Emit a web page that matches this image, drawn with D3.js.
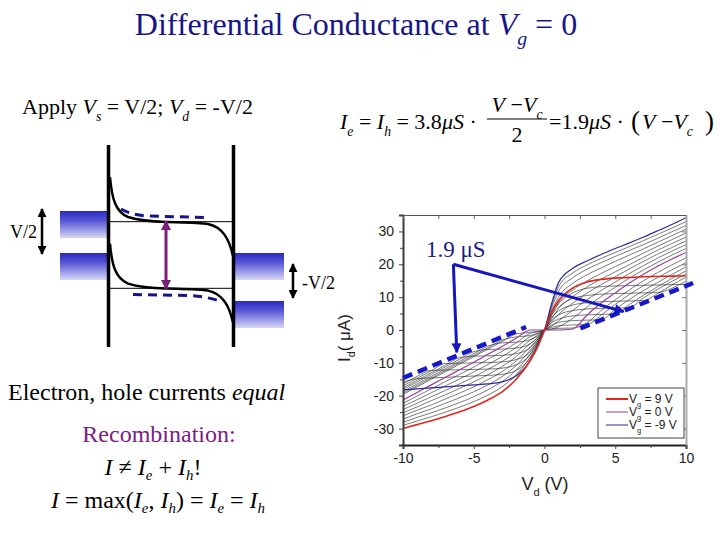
<!DOCTYPE html>
<html>
<head>
<meta charset="utf-8">
<script src="https://cdn.jsdelivr.net/npm/d3@7"></script>
<style>
  body { margin: 0; background: #fff; }
  svg { display: block; }
</style>
</head>
<body>
<script>
// drain voltage samples (V)
var vd = [-10, -9, -8, -7, -6, -5, -4, -3, -2, -1, -0.5, 0, 0.5, 1, 2, 3, 4, 5, 6, 7, 8, 9, 10];

// gate voltages of the curve family (V)
var vgLevels = [9, 8, 7, 6, 5, 4, 3, 2, 1, 0, -1, -2, -3, -4, -5, -6, -7, -8, -9];

// drain current (uA), one row per gate voltage
var idCurves = [
  [-30.0, -28.8, -27.6, -26.3, -24.9, -23.3, -21.3, -18.8, -15.0, -9.2, -5.3, 0, 5.5, 9.0, 12.8, 14.6, 15.4, 15.8, 16.0, 16.2, 16.3, 16.4, 16.5],
  [-29.0, -27.7, -26.4, -25.0, -23.5, -21.8, -19.8, -17.3, -13.6, -8.2, -4.7, 0, 5.0, 8.0, 11.3, 12.7, 13.2, 13.4, 13.5, 13.6, 13.7, 13.8, 13.9],
  [-28.1, -26.6, -25.2, -23.7, -22.1, -20.3, -18.2, -15.7, -12.2, -7.2, -4.1, 0, 4.5, 7.0, 9.6, 10.5, 10.9, 11.1, 11.2, 11.3, 11.4, 12.7, 14.9],
  [-27.1, -25.5, -24.0, -22.3, -20.6, -18.8, -16.7, -14.2, -10.8, -6.1, -3.5, 0, 3.8, 5.8, 7.6, 8.3, 8.6, 8.75, 8.85, 8.95, 11.1, 13.7, 16.1],
  [-26.1, -24.4, -22.8, -21.0, -19.2, -17.3, -15.1, -12.7, -9.4, -5.1, -2.9, 0, 3.0, 4.6, 5.9, 6.4, 6.6, 6.7, 6.8, 9.8, 12.4, 14.8, 17.0],
  [-25.2, -23.4, -21.5, -19.7, -17.8, -15.8, -13.6, -11.1, -8.1, -4.1, -2.4, 0, 2.2, 3.3, 4.3, 4.6, 4.75, 4.85, 7.8, 10.6, 13.2, 15.7, 18.0],
  [-24.2, -22.3, -20.3, -18.4, -16.4, -14.3, -12.0, -9.6, -6.7, -3.1, -1.8, 0, 1.5, 2.3, 2.85, 3.0, 3.1, 6.3, 9.3, 12.0, 14.5, 16.9, 19.2],
  [-23.2, -21.2, -19.1, -17.0, -14.9, -12.8, -10.5, -8.1, -5.3, -2.0, -1.2, 0, 0.8, 1.3, 1.55, 1.65, 4.5, 7.8, 10.8, 13.5, 16.0, 18.3, 20.5],
  [-22.3, -20.1, -17.9, -15.7, -13.5, -11.3, -8.9, -6.5, -3.9, -1.0, -0.6, 0, 0.3, 0.5, 0.6, 2.2, 5.9, 9.2, 12.2, 15.0, 17.5, 19.8, 22.0],
  [-21.3, -19.0, -16.7, -14.4, -12.1, -9.8, -7.4, -5.0, -2.5, 0, 0, 0, 0, 0, 0.3, 4.5, 8.2, 11.3, 14.3, 17.0, 19.4, 21.6, 23.6],
  [-19.6, -17.3, -15.0, -12.7, -10.4, -8.1, -5.8, -3.5, -1.2, -0.7, -0.4, 0, 0.3, 1.0, 3.6, 7.0, 10.2, 13.0, 15.8, 18.3, 20.6, 22.8, 24.8],
  [-19.2, -16.9, -14.6, -12.3, -10.0, -7.7, -5.4, -3.1, -2.1, -1.7, -1.0, 0, 1.2, 2.8, 6.0, 9.2, 12.0, 14.6, 17.2, 19.6, 21.9, 24.0, 26.0],
  [-18.7, -16.4, -14.1, -11.8, -9.5, -7.2, -4.9, -3.9, -3.7, -2.9, -1.7, 0, 2.4, 4.8, 8.2, 11.2, 13.8, 16.2, 18.6, 20.9, 23.1, 25.1, 27.1],
  [-18.1, -15.8, -13.5, -11.2, -8.9, -6.6, -5.95, -5.8, -5.5, -4.2, -2.4, 0, 3.4, 6.5, 10.2, 13.1, 15.5, 17.7, 19.9, 22.1, 24.3, 26.3, 28.3],
  [-17.6, -15.3, -13.0, -10.7, -8.4, -7.95, -7.85, -7.7, -7.2, -5.4, -3.0, 0, 4.5, 8.3, 12.2, 14.9, 17.2, 19.3, 21.3, 23.4, 25.5, 27.5, 29.5],
  [-17.0, -14.7, -12.4, -10.2, -10.1, -10.0, -9.9, -9.7, -9.0, -6.6, -3.6, 0, 5.6, 10.1, 14.2, 16.8, 18.9, 20.9, 22.8, 24.7, 26.7, 28.7, 30.7],
  [-16.4, -14.1, -12.3, -12.2, -12.1, -12.0, -11.9, -11.6, -10.6, -7.5, -4.1, 0, 6.6, 11.8, 15.9, 18.5, 20.5, 22.4, 24.2, 26.0, 27.9, 29.9, 31.8],
  [-15.9, -14.8, -14.6, -14.4, -14.2, -14.0, -13.8, -13.5, -12.3, -8.4, -4.6, 0, 7.3, 13.2, 17.4, 19.8, 21.8, 23.6, 25.4, 27.2, 29.1, 31.0, 33.0],
  [-18.2, -17.9, -17.6, -17.3, -17.0, -16.7, -16.4, -15.8, -13.9, -9.2, -5.0, 0, 8.0, 14.5, 18.8, 21.0, 23.0, 24.8, 26.5, 28.3, 30.2, 32.1, 34.2]
];

// highlighted curves and legend
var legendVg = [9, 0, -9];
var legendText = ["= 9 V", "= 0 V", "= -9 V"];
var legendColor = ["#e3261c", "#9a3c9a", "#2b2b9c"];

// envelope annotations (data units): [vd, id] end points
var envLeft = [[-10, -14.6], [-1.3, 0.9]];
var envRight = [[2.53, 0.5], [10.5, 14.3]];
var labelAnchor = [-6.44, 20.0];
var arrowTips = [[5.59, 5.6], [-6.2, -6.8]];

var xTicks = [-10, -5, 0, 5, 10];
var xMinor = [-7.5, -2.5, 2.5, 7.5];
var yTicks = [-30, -20, -10, 0, 10, 20, 30];
var yMinor = [-25, -15, -5, 5, 15, 25];

var serif = "'Liberation Serif','Times New Roman',serif";
var sans = "'Liberation Sans',Arial,sans-serif";

var svg = d3.select("body").append("svg").attr("width", 720).attr("height", 540);
svg.append("rect").attr("width", 720).attr("height", 540).attr("fill", "#fff");

var defs = svg.append("defs");
var grad = defs.append("linearGradient").attr("id", "lead").attr("x1", 0).attr("y1", 0).attr("x2", 0).attr("y2", 1);
grad.append("stop").attr("offset", "0").attr("stop-color", "#2a2ac2");
grad.append("stop").attr("offset", "0.35").attr("stop-color", "#5555d4");
grad.append("stop").attr("offset", "1").attr("stop-color", "#d6d6f6");

function marker(id, color, w, h) {
  defs.append("marker").attr("id", id).attr("viewBox", "0 0 10 10").attr("refX", 9).attr("refY", 5)
    .attr("markerWidth", w).attr("markerHeight", h).attr("orient", "auto-start-reverse")
    .attr("markerUnits", "userSpaceOnUse")
    .append("path").attr("d", "M0,0 L10,5 L0,10 z").attr("fill", color);
}
marker("arBlack", "#000", 10, 9);
marker("arPurple", "#7a1e7a", 11, 10);
marker("arBlue", "#1616c0", 13, 10);

// text with italic / subscript runs
function rich(g, x, y, size, color, family, parts, anchor, subDrop) {
  var t = g.append("text").attr("x", x).attr("y", y).attr("fill", color)
    .style("font-size", size + "px").style("font-family", family)
    .attr("text-anchor", anchor || "start");
  var drop = subDrop || 0.32;
  var shift = 0;
  parts.forEach(function (p) {
    var f = p[1] || "";
    var target = f.indexOf("s") >= 0 ? size * drop : 0;
    var ts = t.append("tspan").text(p[0]).attr("dy", target - shift);
    shift = target;
    if (f.indexOf("i") >= 0) ts.style("font-style", "italic");
    if (f.indexOf("s") >= 0) ts.style("font-size", (size * 0.62) + "px");
  });
  return t;
}

/* Title and text blocks */
rich(svg, 356, 35, 32, "#16168a", serif,
  [["Differential Conductance at "], ["V", "i"], ["g", "is"], [" = 0"]], "middle");

rich(svg, 22, 114, 22, "#000", serif,
  [["Apply "], ["V", "i"], ["s", "is"], [" = V/2; "], ["V", "i"], ["d", "is"], [" = -V/2"]]);

rich(svg, 8, 400, 24, "#000", serif, [["Electron, hole currents "], ["equal", "i"]]);
rich(svg, 159, 442, 24, "#7a2082", serif, [["Recombination:"]], "middle");
rich(svg, 153, 475, 24, "#000", serif,
  [["I", "i"], [" \u2260 "], ["I", "i"], ["e", "is"], [" + "], ["I", "i"], ["h", "is"], ["!"]], "middle", 0.22);
rich(svg, 158, 508, 24, "#000", serif,
  [["I", "i"], [" = max("], ["I", "i"], ["e", "is"], [", "], ["I", "i"], ["h", "is"], [") = "],
   ["I", "i"], ["e", "is"], [" = "], ["I", "i"], ["h", "is"]], "middle", 0.22);

/* Equation */
var eq = svg.append("g");
rich(eq, 340, 129, 22, "#000", serif,
  [["I", "i"], ["e", "is"], [" = "], ["I", "i"], ["h", "is"], [" = 3.8"], ["\u03bcS", "i"], [" \u00b7"]]);
rich(eq, 517, 112, 22, "#000", serif, [["V", "i"], [" \u2212"], ["V", "i"], ["c", "is"]], "middle");
eq.append("line").attr("x1", 487).attr("x2", 547).attr("y1", 119).attr("y2", 119).attr("stroke", "#000").attr("stroke-width", 1.2);
rich(eq, 517, 142, 22, "#000", serif, [["2"]], "middle");
rich(eq, 549, 129, 22, "#000", serif, [["=1.9"], ["\u03bcS", "i"], [" \u00b7"]]);
rich(eq, 631, 130, 27, "#000", serif, [["("]]);
rich(eq, 642, 129, 22, "#000", serif, [["V", "i"], [" \u2212"], ["V", "i"], ["c", "is"]]);
rich(eq, 705, 130, 27, "#000", serif, [[")"]]);

/* Band diagram */
var band = svg.append("g");
[[60, 211, 48, 27], [60, 253, 48, 27], [235, 253, 49, 27], [235, 301, 49, 27]].forEach(function (b) {
  band.append("rect").attr("x", b[0]).attr("y", b[1]).attr("width", b[2]).attr("height", b[3]).attr("fill", "url(#lead)");
});
[221.7, 288.3].forEach(function (yy) {
  band.append("line").attr("x1", 108).attr("x2", 233).attr("y1", yy).attr("y2", yy).attr("stroke", "#000").attr("stroke-width", 1);
});
[108.5, 233.5].forEach(function (xx) {
  band.append("line").attr("x1", xx).attr("x2", xx).attr("y1", 145).attr("y2", 347).attr("stroke", "#000").attr("stroke-width", 3.5);
});
var bandPath = "M110,177 C112,200 116,212 128,217 C138,220 150,221.5 166,222 C185,222.5 199,222.5 208,224 C222,227 229,238 233,256";
[0, 66.6].forEach(function (dy) {
  band.append("path").attr("d", bandPath).attr("transform", "translate(0," + dy + ")")
    .attr("fill", "none").attr("stroke", "#000").attr("stroke-width", 2.5);
});
band.append("path").attr("d", "M121,209 C128,213 136,215 146,216 L207,217.5")
  .attr("fill", "none").attr("stroke", "#15158a").attr("stroke-width", 3).attr("stroke-dasharray", "9,6");
band.append("path").attr("d", "M133,294.5 L187,295.5 C200,296 212,298 222,302")
  .attr("fill", "none").attr("stroke", "#15158a").attr("stroke-width", 3).attr("stroke-dasharray", "9,6");
band.append("line").attr("x1", 166).attr("x2", 166).attr("y1", 221).attr("y2", 289)
  .attr("stroke", "#7a1e7a").attr("stroke-width", 3)
  .attr("marker-start", "url(#arPurple)").attr("marker-end", "url(#arPurple)");
band.append("line").attr("x1", 42).attr("x2", 42).attr("y1", 209).attr("y2", 254)
  .attr("stroke", "#000").attr("stroke-width", 2.5)
  .attr("marker-start", "url(#arBlack)").attr("marker-end", "url(#arBlack)");
band.append("line").attr("x1", 293).attr("x2", 293).attr("y1", 264).attr("y2", 298)
  .attr("stroke", "#000").attr("stroke-width", 2.5)
  .attr("marker-start", "url(#arBlack)").attr("marker-end", "url(#arBlack)");
rich(band, 10, 238, 18, "#000", serif, [["V/2"]]);
rich(band, 302, 289, 18, "#000", serif, [["-V/2"]]);

/* I-V chart */
var x = d3.scaleLinear().domain([-10, 10]).range([403, 686]);
var y = d3.scaleLinear().domain([-35, 35]).range([445, 215]);
var chart = svg.append("g");

defs.append("clipPath").attr("id", "plotClip").append("rect")
  .attr("x", 403).attr("y", 215).attr("width", 283).attr("height", 230);

var line = d3.line()
  .x(function (d, i) { return x(vd[i]); })
  .y(function (d) { return y(d); })
  .curve(d3.curveMonotoneX);

var curves = chart.append("g").attr("clip-path", "url(#plotClip)");
var rows = vgLevels.map(function (v, i) { return { vg: v, id: idCurves[i] }; });
curves.selectAll("path.gray").data(rows.filter(function (r) { return legendVg.indexOf(r.vg) < 0; }))
  .enter().append("path").attr("class", "gray")
  .attr("d", function (r) { return line(r.id); })
  .attr("fill", "none").attr("stroke", "#222").attr("stroke-width", 0.6);

[0, -9, 9].forEach(function (v) {
  var k = legendVg.indexOf(v);
  curves.append("path").attr("d", line(idCurves[vgLevels.indexOf(v)]))
    .attr("fill", "none").attr("stroke", legendColor[k]).attr("stroke-width", v === 9 ? 1.6 : 1.2);
});

// frame and axes
var fmt = function (d) { return String(d); };
var axL = chart.append("g").attr("transform", "translate(403,0)")
  .call(d3.axisLeft(y).tickValues(yTicks).tickSize(4).tickFormat(fmt));
chart.append("g").attr("transform", "translate(403,0)")
  .call(d3.axisLeft(y).tickValues(yMinor).tickSize(3).tickFormat(""))
  .select(".domain").remove();
var axB = chart.append("g").attr("transform", "translate(0,445)")
  .call(d3.axisBottom(x).tickValues(xTicks).tickSize(4).tickFormat(fmt));
chart.append("g").attr("transform", "translate(0,445)")
  .call(d3.axisBottom(x).tickValues(xMinor).tickSize(3).tickFormat(""))
  .select(".domain").remove();
var axT = chart.append("g").attr("transform", "translate(0,215)")
  .call(d3.axisBottom(x).tickValues(xTicks.concat(xMinor)).tickSize(4).tickSizeOuter(0).tickFormat(""));
var axR = chart.append("g").attr("transform", "translate(686,0)")
  .call(d3.axisLeft(y).tickValues(yTicks).tickSize(4).tickSizeOuter(0).tickFormat(""));

chart.selectAll(".tick line").attr("stroke", "#444");
axL.select(".domain").attr("stroke", "#3a3a3a").attr("stroke-width", 2);
axB.select(".domain").attr("stroke", "#222").attr("stroke-width", 2);
axT.select(".domain").attr("stroke", "#555").attr("stroke-width", 1);
axR.select(".domain").attr("stroke", "#aaa").attr("stroke-width", 2);
axT.selectAll(".tick line").attr("stroke", "#666");
axR.selectAll(".tick line").attr("stroke", "#777");
chart.selectAll(".tick text").style("font-family", sans).style("font-size", "14px").attr("fill", "#222");
axL.selectAll(".tick text").attr("x", -9);
axB.selectAll(".tick text").attr("y", 8);

rich(chart, 545, 490, 18, "#222", sans, [["V"], ["d", "s"], [" (V)"]], "middle");
rich(chart.append("g").attr("transform", "translate(350,338) rotate(-90)"), 0, 0, 17, "#222", sans,
  [["I"], ["d", "s"], ["( \u03bcA)"]], "middle");

// legend
var leg = chart.append("g");
leg.append("rect").attr("x", 598).attr("y", 388).attr("width", 86).attr("height", 50)
  .attr("fill", "#fff").attr("stroke", "#444").attr("stroke-width", 1);
legendVg.forEach(function (v, i) {
  var yy = 399 + i * 13;
  leg.append("line").attr("x1", 606).attr("x2", 628).attr("y1", yy).attr("y2", yy)
    .attr("stroke", legendColor[i]).attr("stroke-width", i === 0 ? 2 : 1);
  rich(leg, 629, yy + 4, 12, "#222", sans, [["V"], ["g", "s"], [" " + legendText[i]]]);
});

// envelope lines and annotation
[envLeft, envRight].forEach(function (seg) {
  chart.append("line")
    .attr("x1", x(seg[0][0])).attr("y1", y(seg[0][1]))
    .attr("x2", x(seg[1][0])).attr("y2", y(seg[1][1]))
    .attr("stroke", "#1717cc").attr("stroke-width", 4.5).attr("stroke-dasharray", "10,6");
});
arrowTips.forEach(function (t) {
  chart.append("line")
    .attr("x1", x(labelAnchor[0])).attr("y1", y(labelAnchor[1]))
    .attr("x2", x(t[0])).attr("y2", y(t[1]))
    .attr("stroke", "#1616c0").attr("stroke-width", 3).attr("marker-end", "url(#arBlue)");
});
rich(chart, 426, 257, 23, "#1a1a8c", serif, [["1.9 \u03bcS"]]);
</script>
</body>
</html>
